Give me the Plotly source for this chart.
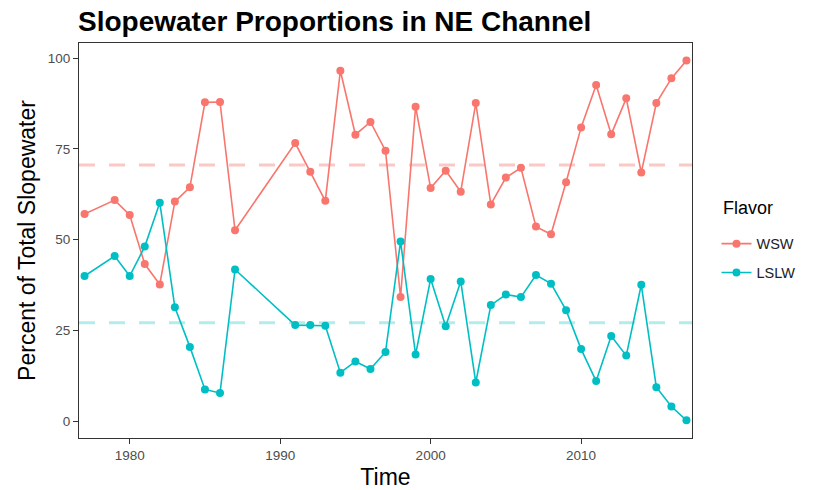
import plotly.graph_objects as go

# Survey years and slopewater fractions (%) in the NE Channel
years = [1977, 1979, 1980, 1981, 1982, 1983, 1984, 1985, 1986, 1987,
         1991, 1992, 1993, 1994, 1995, 1996, 1997, 1998, 1999, 2000,
         2001, 2002, 2003, 2004, 2005, 2006, 2007, 2008, 2009, 2010,
         2011, 2012, 2013, 2014, 2015, 2016, 2017]

wsw = [57.1, 60.9, 56.8, 43.3, 37.7, 60.5, 64.4, 87.8, 87.9, 52.6,
       76.6, 68.7, 60.7, 96.5, 78.9, 82.4, 74.5, 34.2, 86.6, 64.2,
       69.0, 63.2, 87.6, 59.7, 67.1, 69.8, 53.6, 51.5, 65.8, 80.9,
       92.6, 79.0, 88.9, 68.5, 87.6, 94.4, 99.3]

lslw = [40.0, 45.5, 40.0, 48.1, 60.2, 31.4, 20.5, 8.8, 7.8, 41.8,
        26.5, 26.5, 26.3, 13.4, 16.5, 14.4, 19.1, 49.5, 18.4, 39.2,
        26.2, 38.5, 10.7, 32.0, 34.9, 34.2, 40.3, 37.9, 30.6, 19.9,
        11.1, 23.5, 18.1, 37.6, 9.4, 4.1, 0.3]

x_ticks = [1980, 1990, 2000, 2010]
y_ticks = [0, 25, 50, 75, 100]

series = [("WSW", wsw, "#F8766D", "rgba(248,118,109,0.4)"),
          ("LSLW", lslw, "#00BFC4", "rgba(0,191,196,0.3)")]

x_range = [1976.63, 2017.37]
y_range = [-4.57, 104.13]

FONT = "Liberation Sans, Arial, Helvetica, sans-serif"

fig = go.Figure()

# long-term mean of each water mass as a dashed reference line
for name, vals, col, faint in series:
    mean_val = sum(vals) / len(vals)
    fig.add_trace(go.Scatter(
        x=x_range, y=[mean_val, mean_val], mode="lines",
        line=dict(color=faint, width=3, dash="16px,14px"),
        showlegend=False, hoverinfo="skip"))

for name, vals, col, faint in series:
    fig.add_trace(go.Scatter(
        x=years, y=vals, mode="lines+markers", name=name, legendgroup=name,
        line=dict(color=col, width=1.6),
        marker=dict(color=col, size=8)))

axis_font = dict(family=FONT, size=13.5, color="#4D4D4D")

fig.update_layout(
    width=813, height=490,
    margin=dict(l=79, r=120.5, t=43.3, b=51.7),
    paper_bgcolor="white", plot_bgcolor="white",
    font=dict(family=FONT, color="black"),
    title=dict(text="<b>Slopewater Proportions in NE Channel</b>",
               font=dict(size=28, color="black"),
               x=78 / 813, xref="container", xanchor="left",
               y=1 - 21 / 490, yref="container", yanchor="middle"),
    legend=dict(font=dict(size=14.5, color="#222"),
                x=(717 - 79) / 613.5, xanchor="left",
                y=(438.3 - 228) / 395, yanchor="top",
                tracegroupgap=7),
    showlegend=True,
    annotations=[dict(text="Flavor", xref="paper", yref="paper",
                      x=(722 - 79) / 613.5, xanchor="left",
                      y=(438.3 - 208) / 395, yanchor="middle",
                      showarrow=False, font=dict(size=18, color="black"))],
)

fig.update_xaxes(
    range=x_range, tickvals=x_ticks, ticks="outside", ticklen=5,
    tickcolor="#333", tickfont=axis_font, showgrid=False, zeroline=False,
    showline=True, linecolor="#333", linewidth=1.2, mirror=True,
    automargin=False,
    title=dict(text="Time", font=dict(size=23, color="black"), standoff=6))

fig.update_yaxes(
    range=y_range, tickvals=y_ticks, ticks="outside", ticklen=5,
    tickcolor="#333", tickfont=axis_font, showgrid=False, zeroline=False,
    showline=True, linecolor="#333", linewidth=1.2, mirror=True,
    automargin=False,
    title=dict(text="Percent of Total Slopewater", font=dict(size=23, color="black"),
               standoff=5))

fig.write_html("out.html")
